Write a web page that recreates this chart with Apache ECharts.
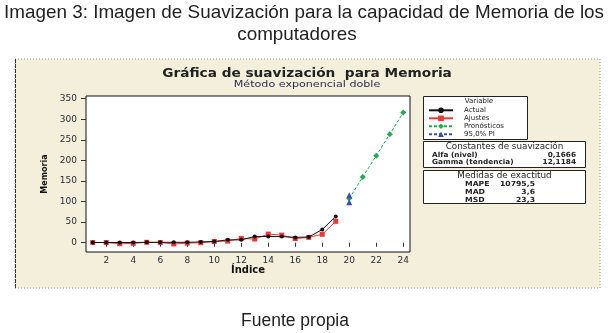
<!DOCTYPE html>
<html>
<head>
<meta charset="utf-8">
<script src="https://cdn.jsdelivr.net/npm/echarts@6/dist/echarts.min.js"></script>
<style>
  html, body { margin: 0; padding: 0; background: #ffffff; }
  #chart { width: 612px; height: 333px; }
</style>
</head>
<body>
<div id="chart"></div>
<script>
// Periods with observed memory capacity and the fitted values
const periods = [1, 2, 3, 4, 5, 6, 7, 8, 9, 10, 11, 12, 13, 14, 15, 16, 17, 18, 19];
const actual = [0.5, 0.5, 0.5, 0.5, 1, 1, 1, 1, 2, 3, 7, 7, 15, 15, 15, 13, 14, 32, 64];
const fits = [0.5, 0.5, -2.5, -1.5, 1, 0.5, -3, -1, 0, 3, 4, 10.5, 9, 21, 18.5, 10, 13, 20.5, 52];

// Forecast horizon and the 95% prediction interval at its first step
const forecastPeriods = [20, 21, 22, 23, 24];
const forecasts = [107.5, 159.5, 211.5, 263.5, 316];
const piPeriods = [20];
const piUpper = [115.5];
const piLower = [98];

// Axis ticks
const xTicks = [2, 4, 6, 8, 10, 12, 14, 16, 18, 20, 22, 24];
const yTicks = [0, 50, 100, 150, 200, 250, 300, 350];

// Legend names and the summary tables
const seriesNames = ['Actual', 'Ajustes', 'Pronósticos', '95,0% PI'];
const smoothingRows = [['Alfa (nivel)', '0,1666'], ['Gamma (tendencia)', '12,1184']];
const accuracyRows = [['MAPE', '10795,5'], ['MAD', '3,6'], ['MSD', '23,3']];

const pairs = (xs, ys) => xs.map((x, i) => [x, ys[i]]);

const chart = echarts.init(document.getElementById('chart'), null, { renderer: 'canvas' });

const smallFont = 'DejaVu Sans';
const headFont = '"Liberation Sans", Arial, sans-serif';

const graphics = [
  // beige panel behind the plot
  { type: 'rect', z: -10, shape: { x: 15, y: 59, width: 585, height: 229 },
    style: { fill: '#f4efda', stroke: '#9a9a9a', lineWidth: 1, lineDash: [1, 2] } },
  { type: 'line', z: -9, shape: { x1: 15.5, y1: 59, x2: 15.5, y2: 288 },
    style: { stroke: '#333', lineWidth: 1, lineDash: [4, 1] } },
  // page heading and source note
  { type: 'text', x: 304, y: 13, scaleX: 1.02, style: { text: 'Imagen 3: Imagen de Suavización para la capacidad de Memoria de los',
      font: '18.5px ' + headFont, fill: '#222', align: 'center', verticalAlign: 'middle' } },
  { type: 'text', x: 297, y: 35, scaleX: 1.02, style: { text: 'computadores',
      font: '18.5px ' + headFont, fill: '#222', align: 'center', verticalAlign: 'middle' } },
  { type: 'text', x: 295, y: 321, style: { text: 'Fuente propia',
      font: '17.5px ' + headFont, fill: '#222', align: 'center', verticalAlign: 'middle' } },
  // chart title
  { type: 'text', x: 307, y: 74, scaleX: 1.14, style: { text: 'Gráfica de suavización  para Memoria',
      font: 'bold 12px ' + smallFont, fill: '#222', align: 'center', verticalAlign: 'middle' } },
  { type: 'text', x: 307, y: 85, scaleX: 1.17, style: { text: 'Método exponencial doble',
      font: '9.5px ' + smallFont, fill: '#2a2a50', align: 'center', verticalAlign: 'middle' } },
  // legend box
  { type: 'rect', z: -5, shape: { x: 423.5, y: 96.5, width: 104, height: 43 },
    style: { fill: '#fff', stroke: '#222', lineWidth: 1 } },
  { type: 'text', x: 479, y: 101.5, style: { text: 'Variable', font: '7px ' + smallFont,
      fill: '#222', align: 'center', verticalAlign: 'middle' } },
  // smoothing constants box
  { type: 'rect', z: -5, shape: { x: 423.5, y: 141.5, width: 162, height: 26 },
    style: { fill: '#fff', stroke: '#222', lineWidth: 1 } },
  { type: 'text', x: 504.5, y: 147, scaleX: 1.1, style: { text: 'Constantes de suavización', font: '8px ' + smallFont,
      fill: '#222', align: 'center', verticalAlign: 'middle' } },
  // accuracy box
  { type: 'rect', z: -5, shape: { x: 423.5, y: 170.5, width: 162, height: 33 },
    style: { fill: '#fff', stroke: '#222', lineWidth: 1 } },
  { type: 'text', x: 504.5, y: 175.5, scaleX: 1.1, style: { text: 'Medidas de exactitud', font: '8px ' + smallFont,
      fill: '#222', align: 'center', verticalAlign: 'middle' } }
];

smoothingRows.forEach((row, i) => {
  const y = 155 + i * 7.5;
  graphics.push({ type: 'text', x: 432, y, scaleX: 1.05, style: { text: row[0], font: 'bold 7px ' + smallFont,
    fill: '#222', align: 'left', verticalAlign: 'middle' } });
  graphics.push({ type: 'text', x: 576, y, scaleX: 1.05, style: { text: row[1], font: 'bold 7px ' + smallFont,
    fill: '#222', align: 'right', verticalAlign: 'middle' } });
});
accuracyRows.forEach((row, i) => {
  const y = 184 + i * 8;
  graphics.push({ type: 'text', x: 465, y, scaleX: 1.1, style: { text: row[0], font: 'bold 7px ' + smallFont,
    fill: '#222', align: 'left', verticalAlign: 'middle' } });
  graphics.push({ type: 'text', x: 535, y, scaleX: 1.1, style: { text: row[1], font: 'bold 7px ' + smallFont,
    fill: '#222', align: 'right', verticalAlign: 'middle' } });
});

const axisLabelStyle = { fontFamily: smallFont, fontSize: 9, color: '#2a2a3a' };

chart.setOption({
  animation: false,
  backgroundColor: 'transparent',
  graphic: graphics,
  grid: { left: 86, top: 96, width: 324, height: 156, show: true,
    backgroundColor: '#ffffff', borderColor: '#111', borderWidth: 1 },
  legend: {
    data: seriesNames.map(name => ({ name })),
    orient: 'vertical', left: 428, top: 106.3, padding: 0,
    itemWidth: 24, itemHeight: 7, itemGap: 0,
    textStyle: { fontFamily: smallFont, fontSize: 7, color: '#222', lineHeight: 8, padding: [0, 0, 0, 6] }
  },
  xAxis: {
    type: 'value', min: 0.5, max: 24.5,
    name: 'Índice', nameLocation: 'middle', nameGap: 13,
    nameTextStyle: { fontFamily: smallFont, fontWeight: 'bold', fontSize: 10, color: '#111' },
    axisLine: { show: false },
    axisTick: { show: true, length: 4, customValues: xTicks, lineStyle: { color: '#333' } },
    axisLabel: { customValues: xTicks, margin: 4, ...axisLabelStyle },
    splitLine: { show: false }
  },
  yAxis: {
    type: 'value', min: -22.5, max: 356.3,
    name: 'Memoria', nameLocation: 'middle', nameGap: 37, nameRotate: 90,
    nameTextStyle: { fontFamily: smallFont, fontWeight: 'bold', fontSize: 8, color: '#111' },
    axisLine: { show: false },
    axisTick: { show: true, length: 5, customValues: yTicks, lineStyle: { color: '#333' } },
    axisLabel: { customValues: yTicks, margin: 9, ...axisLabelStyle },
    splitLine: { show: false }
  },
  series: [
    { name: 'Ajustes', type: 'line', data: pairs(periods, fits),
      symbol: 'rect', symbolSize: 5, color: '#e83a3a',
      lineStyle: { color: '#e83a3a', width: 1 }, itemStyle: { color: '#e83a3a' }, z: 2 },
    { name: 'Actual', type: 'line', data: pairs(periods, actual),
      symbol: 'circle', symbolSize: 4, color: '#111',
      lineStyle: { color: '#111', width: 1 }, itemStyle: { color: '#111' }, z: 3 },
    { name: 'Pronósticos', type: 'line', data: pairs(forecastPeriods, forecasts),
      symbol: 'diamond', symbolSize: 6, color: '#2aa650',
      lineStyle: { color: '#2aa650', width: 1, type: [3, 2] }, itemStyle: { color: '#2aa650' }, z: 3 },
    { name: '95,0% PI', type: 'line', data: pairs(piPeriods, piUpper),
      symbol: 'triangle', symbolSize: 6, color: '#3b4ea5',
      lineStyle: { color: '#3b4ea5', width: 1, type: [3, 2] }, itemStyle: { color: '#3b4ea5' }, z: 4 },
    { name: '95,0% PI', type: 'line', data: pairs(piPeriods, piLower),
      symbol: 'triangle', symbolSize: 6, color: '#3b4ea5',
      lineStyle: { color: '#3b4ea5', width: 1, type: [3, 2] }, itemStyle: { color: '#3b4ea5' }, z: 4 }
  ]
});
</script>
</body>
</html>
